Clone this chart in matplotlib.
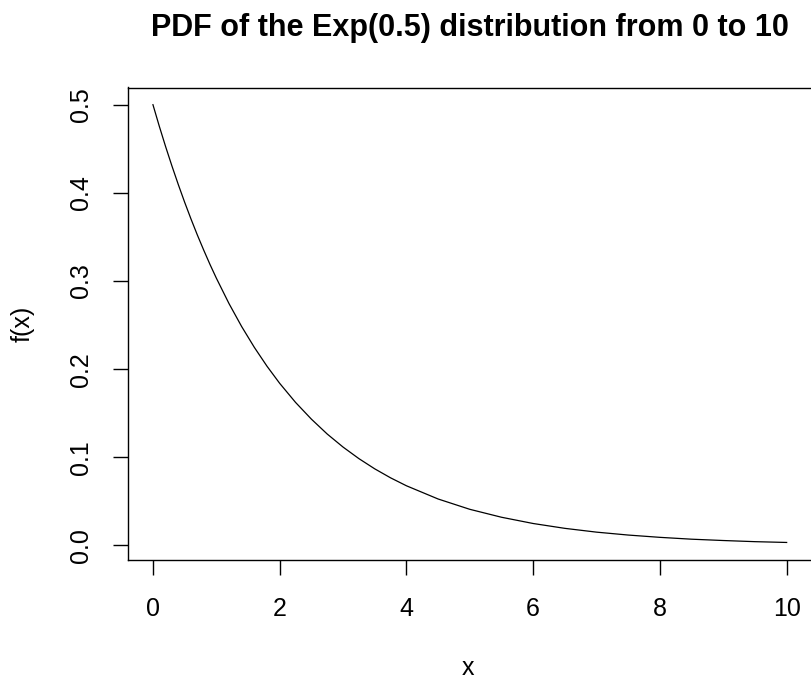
import matplotlib
matplotlib.use("Agg")
import matplotlib.pyplot as plt

plt.rcParams['font.family'] = ['Liberation Sans', 'DejaVu Sans']

# values
x_vals = [0.0, 0.1, 0.2, 0.3, 0.4, 0.5, 0.6, 0.7, 0.8, 0.9, 1.0,
          1.2, 1.4, 1.6, 1.8, 2.0, 2.25, 2.5, 2.75, 3.0, 3.25, 3.5, 3.75, 4.0,
          4.5, 5.0, 5.5, 6.0, 6.5, 7.0, 7.5, 8.0, 8.5, 9.0, 9.5, 10.0]
f_vals = [0.5, 0.4756, 0.4524, 0.4304, 0.4094, 0.3894, 0.3704, 0.3523, 0.3352,
          0.3188, 0.3033, 0.2744, 0.2483, 0.2247, 0.2033, 0.1839, 0.1623,
          0.1433, 0.1264, 0.1116, 0.0985, 0.0869, 0.0767, 0.0677,
          0.0527, 0.0410, 0.0320, 0.0249, 0.0194, 0.0151,
          0.0118, 0.0092, 0.0071, 0.0056, 0.0043, 0.0034]
x_ticks = [0, 2, 4, 6, 8, 10]
y_ticks = [0.0, 0.1, 0.2, 0.3, 0.4, 0.5]
y_tick_labels = ["0.0", "0.1", "0.2", "0.3", "0.4", "0.5"]

W, H = 811, 680
fig = plt.figure(figsize=(W / 100, H / 100), dpi=100)
left, right, top, bottom = 127.6, 812.0, 87.5, 560.0
ax = fig.add_axes([left / W, 1 - bottom / H, (right - left) / W, (bottom - top) / H])

ax.plot(x_vals, f_vals, color='black', linewidth=0.9)
ax.set_xlim(-0.4, 10.4)
ax.set_ylim(-0.0165, 0.5195)

ax.set_xticks(x_ticks)
ax.set_xticklabels([str(v) for v in x_ticks])
ax.set_yticks(y_ticks)
ax.set_yticklabels(y_tick_labels, rotation=90, va='center')

for s in ax.spines.values():
    s.set_linewidth(1.0)
    s.set_color('black')

ax.tick_params(axis='x', direction='out', length=11, width=1.0, pad=16, labelsize=18)
ax.tick_params(axis='y', direction='out', length=11, width=1.0, pad=14, labelsize=18)

fig.text(470 / W, 1 - 36 / H, "PDF of the Exp(0.5) distribution from 0 to 10",
         ha='center', va='baseline', fontsize=22, fontweight='bold')
fig.text(468 / W, 1 - 675 / H, "x", ha='center', va='baseline', fontsize=18)
fig.text(35 / W, 1 - 324 / H, "f(x)", ha='right', va='center', rotation=90,
         fontsize=18)

fig.savefig("out.png", dpi=100)
